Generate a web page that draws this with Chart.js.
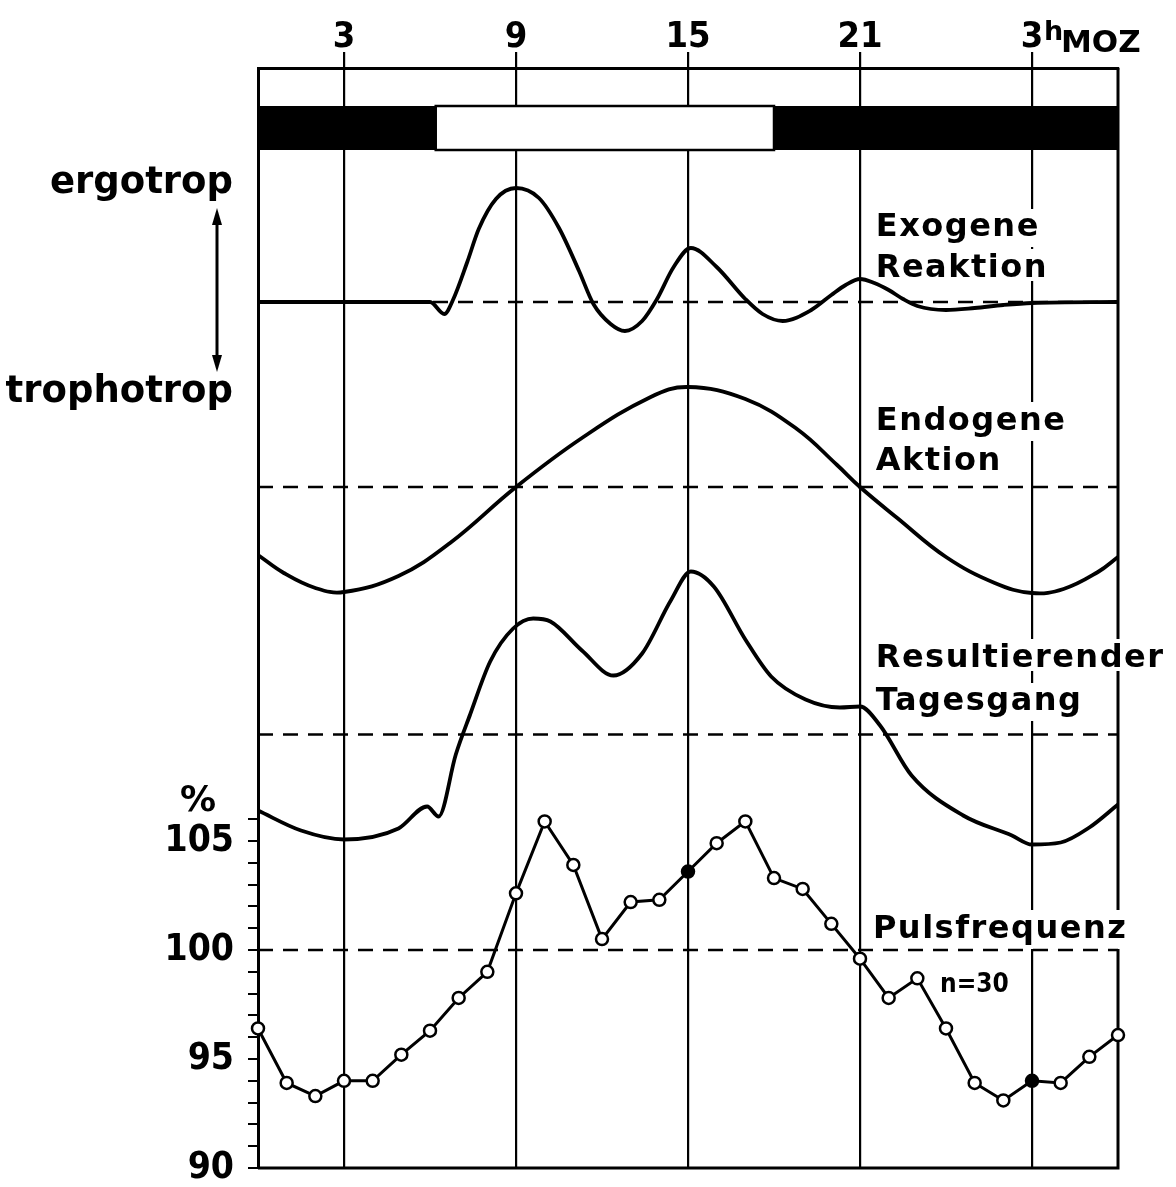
<!DOCTYPE html>
<html><head><meta charset="utf-8">
<script src="https://cdn.jsdelivr.net/npm/chart.js@4/dist/chart.umd.min.js"></script>
<style>html,body{margin:0;padding:0;background:#fff;overflow:hidden}canvas{display:block}</style>
</head><body><canvas id="c" width="1176" height="1187" style="width:1176px;height:1187px"></canvas>
<script>
// ---------- data ----------
const hourTicks = [3, 9, 15, 21, 27];
const hourTickLabels = ['3', '9', '15', '21', '3'];
const lightPeriod = [6.2, 18.0];           // white (day) part of the bar, hours

const pulseHours = [0,1,2,3,4,5,6,7,8,9,10,11,12,13,14,15,16,17,18,19,20,21,22,23,24,25,26,27,28,29,30];
const pulseValues = [96.4,93.9,93.3,94.0,94.0,95.2,96.3,97.8,99.0,102.6,105.9,103.9,100.5,102.2,102.3,103.6,104.9,105.9,103.3,102.8,101.2,99.6,97.8,98.7,96.4,93.9,93.1,94.0,93.9,95.1,96.1];
const pulseFilledHours = [15, 27];
const pulseReference = 100;
const pulseTicks = [90,91,92,93,94,95,96,97,98,99,100,101,102,103,104,105,106];
const pulseLabelled = [90, 95, 100, 105];

// relative curves (arbitrary units, + = ergotrop)
const exoHours  = [0,6.0,6.5,6.8,7.3,7.7,8.3,9.0,9.8,10.5,11.2,11.7,12.3,12.8,13.4,13.9,14.5,15.1,16,17,17.6,18.3,19.3,20,20.5,21,21.5,22,22.5,23,24,25,26,27,30];
const exoValues = [0,0,-1.2,0.2,4.0,7.3,10.3,11.4,10.4,7.4,3.1,-0.2,-2.2,-2.9,-1.9,0.2,3.5,5.4,3.5,0.3,-1.2,-1.9,-0.8,0.7,1.7,2.3,1.9,1.2,0.3,-0.4,-0.8,-0.6,-0.3,-0.1,0];

const endoHours  = [0,0.9,2.0,3.0,4.9,6.7,9,11.3,13.7,15,17,18.8,20.2,21,22.3,24,25.7,27,28.1,29.3,30];
const endoValues = [-6.8,-8.6,-10.1,-10.5,-8.9,-5.6,0,4.9,9.0,10.0,8.8,5.8,2.2,0,-3.1,-7.0,-9.6,-10.6,-10.2,-8.5,-7.0];

const resHours  = [0,1.5,3,4.9,5.9,6.3,6.9,7.4,8.1,8.9,9.6,10.2,11.3,12.4,13.4,14.4,15.1,15.9,17,17.9,19.1,20.3,21,21.7,22.8,24.6,26.3,27,28,29,30];
const resValues = [-7.6,-9.6,-10.5,-9.4,-7.2,-8.2,-2.0,2.0,7.3,10.6,11.6,11.3,8.4,5.9,8.1,13.4,16.3,14.8,9.5,5.8,3.5,2.7,2.8,0.9,-4.1,-8.1,-10.1,-11.0,-10.8,-9.3,-7.0];

// ---------- layout (positions on the hidden panel axis, 0..110) ----------
const panelRange = [0, 110];
const pulseRange = [90, 140.46];
const hourRange = [0, 30];
const exoBase = 86.6, endoBase = 68.1, resBase = 43.35;
const bandTop = 106.2, bandBottom = 101.8;

const FONT = "'DejaVu Sans', sans-serif";
const CFONT = "'DejaVu Sans Condensed', 'DejaVu Sans', sans-serif";

const curveLabels = [
  {text:'Exogene', h:21.55, v:93.2},
  {text:'Reaktion', h:21.55, v:89.1},
  {text:'Endogene', h:21.55, v:73.8},
  {text:'Aktion', h:21.55, v:69.8},
  {text:'Resultierender', h:21.55, v:50.1},
  {text:'Tagesgang', h:21.55, v:45.8},
  {text:'Pulsfrequenz', h:21.45, v:23.0}
];
const LABEL_FONT = "bold 32px " + FONT;
const LABEL_SPACING = '1.5px';

function pts(hours, vals, base) { return hours.map((h, i) => ({x: h, y: base + vals[i]})); }
function flat(base) { return [{x: hourRange[0], y: base}, {x: hourRange[1], y: base}]; }

const curveStyle = {borderColor:'#000', borderWidth:3.8, pointRadius:0, cubicInterpolationMode:'monotone', yAxisID:'yc', clip:false};
const dashStyle = {borderColor:'#000', borderWidth:2.5, pointRadius:0, borderDash:[15,10], yAxisID:'yc', clip:false};

function drawLabelBg(ctx, t, x, y) {
  ctx.font = LABEL_FONT; ctx.letterSpacing = LABEL_SPACING;
  const m = ctx.measureText(t);
  ctx.fillStyle = '#fff';
  ctx.fillRect(x - 3, y - m.actualBoundingBoxAscent - 4, m.width + 6, m.actualBoundingBoxAscent + m.actualBoundingBoxDescent + 8);
}

const annot = {
  id: 'annot',
  beforeDatasetsDraw(chart) {
    const {ctx, chartArea: a, scales: {x, yc}} = chart;
    ctx.save();
    const yT = yc.getPixelForValue(bandTop), yB = yc.getPixelForValue(bandBottom);
    const x0 = x.getPixelForValue(hourRange[0]), x1 = x.getPixelForValue(lightPeriod[0]);
    const x2 = x.getPixelForValue(lightPeriod[1]), x3 = x.getPixelForValue(hourRange[1]);
    ctx.fillStyle = '#000';
    ctx.fillRect(x0, yT, x1 - x0, yB - yT);
    ctx.fillRect(x2, yT, x3 - x2, yB - yT);
    ctx.fillStyle = '#fff';
    ctx.fillRect(x1, yT, x2 - x1, yB - yT);
    ctx.strokeStyle = '#000'; ctx.lineWidth = 2.5;
    ctx.strokeRect(x1, yT, x2 - x1, yB - yT);
    ctx.lineWidth = 3;
    ctx.beginPath(); ctx.moveTo(a.right, a.top); ctx.lineTo(a.right, a.bottom); ctx.lineTo(a.left, a.bottom); ctx.stroke();
    curveLabels.forEach(l => drawLabelBg(ctx, l.text, x.getPixelForValue(l.h), yc.getPixelForValue(l.v)));
    ctx.restore();
  },
  afterDatasetsDraw(chart) {
    const {ctx, chartArea: a, scales: {x, yc}} = chart;
    ctx.save();
    ctx.fillStyle = '#000'; ctx.strokeStyle = '#000';
    ctx.textBaseline = 'alphabetic';
    ctx.font = LABEL_FONT; ctx.letterSpacing = LABEL_SPACING; ctx.textAlign = 'left';
    curveLabels.forEach(l => ctx.fillText(l.text, x.getPixelForValue(l.h), yc.getPixelForValue(l.v)));
    ctx.letterSpacing = '0px';
    ctx.font = "bold 26px " + CFONT;
    ctx.fillText('n=30', x.getPixelForValue(23.79), yc.getPixelForValue(17.6));
    ctx.textAlign = 'right';
    ctx.font = "bold 37px " + FONT;
    ctx.fillText('ergotrop', a.left - 25, yc.getPixelForValue(97.5));
    ctx.fillText('trophotrop', a.left - 25, yc.getPixelForValue(76.6));
    const ax = a.left - 41, t1 = yc.getPixelForValue(96.0), t2 = yc.getPixelForValue(79.6);
    ctx.lineWidth = 3;
    ctx.beginPath(); ctx.moveTo(ax, t1 + 10); ctx.lineTo(ax, t2 - 10); ctx.stroke();
    ctx.beginPath(); ctx.moveTo(ax, t1); ctx.lineTo(ax - 5, t1 + 17); ctx.lineTo(ax + 5, t1 + 17); ctx.closePath(); ctx.fill();
    ctx.beginPath(); ctx.moveTo(ax, t2); ctx.lineTo(ax - 5, t2 - 17); ctx.lineTo(ax + 5, t2 - 17); ctx.closePath(); ctx.fill();
    ctx.textAlign = 'center';
    ctx.font = "bold 36px " + FONT;
    ctx.fillText('%', a.left - 60, yc.getPixelForValue(35.7));
    const tx = x.getPixelForValue(hourTicks[hourTicks.length - 1]);
    ctx.textAlign = 'left';
    ctx.font = "bold 27px " + FONT;
    ctx.fillText('h', tx + 12, 40);
    ctx.font = "bold 31px " + FONT;
    ctx.fillText('MOZ', tx + 29, 52);
    ctx.restore();
  }
};

new Chart(document.getElementById('c'), {
  type: 'line',
  data: {
    datasets: [
      {...dashStyle, data: flat(exoBase)},
      {...curveStyle, data: pts(exoHours, exoValues, exoBase)},
      {...dashStyle, data: flat(endoBase)},
      {...curveStyle, cubicInterpolationMode: 'default', tension: 0.4, data: pts(endoHours, endoValues, endoBase)},
      {...dashStyle, data: flat(resBase)},
      {...curveStyle, data: pts(resHours, resValues, resBase)},
      {borderColor:'#000', borderWidth:2.5, pointRadius:0, borderDash:[15,10], yAxisID:'y', clip:false,
       data: [{x: hourRange[0], y: pulseReference}, {x: hourRange[1], y: pulseReference}]},
      {borderColor:'#000', borderWidth:3, tension:0, yAxisID:'y', clip:false,
       pointRadius:6, pointBorderWidth:2.5, pointBorderColor:'#000',
       pointBackgroundColor: c => pulseFilledHours.includes(pulseHours[c.dataIndex]) ? '#000' : '#fff',
       data: pulseHours.map((h, i) => ({x: h, y: pulseValues[i]}))}
    ]
  },
  options: {
    responsive: false, animation: false, devicePixelRatio: 1,
    layout: {padding: {left: 0, top: 0, right: 58, bottom: 19}},
    plugins: {legend: {display: false}, tooltip: {enabled: false}},
    scales: {
      x: {
        type: 'linear', position: 'top', min: hourRange[0], max: hourRange[1],
        afterBuildTicks: s => { s.ticks = hourTicks.map(v => ({value: v})); },
        afterFit: s => { s.height = 68; s.paddingLeft = 0; s.paddingRight = 0; },
        ticks: {autoSkip: false, maxRotation: 0, padding: -7, color: '#000',
                font: {family: CFONT, size: 36, weight: 'bold'},
                callback: v => hourTickLabels[hourTicks.indexOf(v)]},
        grid: {color: '#000', lineWidth: 2.2, tickLength: 16},
        border: {color: '#000', width: 3}
      },
      y: {
        type: 'linear', position: 'left', min: pulseRange[0], max: pulseRange[1],
        afterBuildTicks: s => { s.ticks = pulseTicks.map(v => ({value: v})); },
        afterFit: s => { s.width = 258; s.paddingTop = 0; s.paddingBottom = 0; },
        ticks: {autoSkip: false, padding: 14, color: '#000',
                font: {family: CFONT, size: 37, weight: 'bold'},
                callback: v => pulseLabelled.includes(v) ? String(v) : ''},
        grid: {drawOnChartArea: false, color: '#000', lineWidth: 2, tickLength: 10},
        border: {color: '#000', width: 3}
      },
      yc: {type: 'linear', display: false, min: panelRange[0], max: panelRange[1]}
    }
  },
  plugins: [annot]
});
</script></body></html>
